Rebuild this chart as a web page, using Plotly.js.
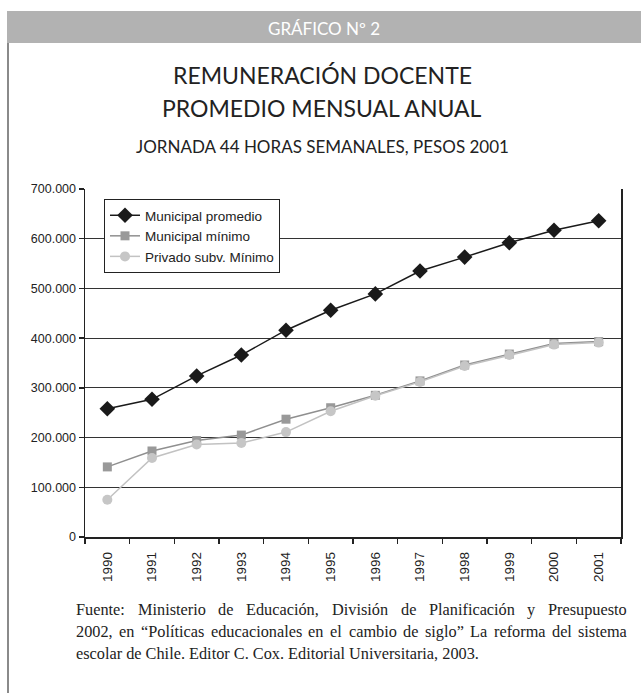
<!DOCTYPE html>
<html>
<head>
<meta charset="utf-8">
<script src="https://cdn.plot.ly/plotly-3.0.1.min.js"></script>
<style>html,body{margin:0;padding:0;background:#fff;}#chart{width:641px;height:693px;}</style>
</head>
<body>
<div id="chart"></div>
<script>
var years = ["1990","1991","1992","1993","1994","1995","1996","1997","1998","1999","2000","2001"];
var municipalPromedio = [258000, 277000, 324000, 366000, 416000, 456000, 489000, 535000, 563000, 592000, 617000, 636000];
var municipalMinimo = [141000, 173000, 194000, 205000, 237000, 260000, 285000, 314000, 346000, 368000, 389000, 393000];
var privadoMinimo = [75000, 159000, 186000, 189000, 211000, 253000, 284000, 312000, 344000, 366000, 387000, 391000];
var seriesNames = ["Municipal promedio", "Municipal mínimo", "Privado subv. Mínimo"];
var yTicks = [0, 100000, 200000, 300000, 400000, 500000, 600000, 700000];
var footLines = [
  "Fuente: Ministerio de Educación, División de Planificación y Presupuesto",
  "2002, en “Políticas educacionales en el cambio de siglo” La reforma del sistema",
  "escolar de Chile. Editor C. Cox. Editorial Universitaria, 2003."
];

var W = 641, H = 693;
var L = 85, R = 621, T = 189, B = 537;
function px(x){ return (x - L) / (R - L); }
function py(y){ return (B - y) / (B - T); }

var sansFamily = "Liberation Sans Narrow, Arial Narrow, Liberation Sans, Arial, sans-serif";
var axisFont = {family: sansFamily, size: 12.5, color: "#222"};
var titleFont = "Lato, Open Sans, Noto Sans, sans-serif";
var serifFamily = "Liberation Serif";
var serifSize = 16.3;

var traces = [
  {x: years, y: municipalPromedio, name: seriesNames[0], type: "scatter", mode: "lines+markers",
   line: {color: "#1a1a1a", width: 1.5}, marker: {symbol: "diamond", size: 12, color: "#1a1a1a"}},
  {x: years, y: municipalMinimo, name: seriesNames[1], type: "scatter", mode: "lines+markers",
   line: {color: "#8f8f8f", width: 1.5}, marker: {symbol: "square", size: 9, color: "#999999"}},
  {x: years, y: privadoMinimo, name: seriesNames[2], type: "scatter", mode: "lines+markers",
   line: {color: "#c2c2c2", width: 1.5}, marker: {symbol: "circle", size: 10, color: "#c6c6c6"}}
];

var annotations = [
  {text: "GRÁFICO Nº 2", x: px(324), y: py(28), xref: "paper", yref: "paper", showarrow: false,
   xanchor: "center", yanchor: "middle", font: {family: titleFont, size: 17, color: "#ffffff"}},
  {text: "REMUNERACIÓN DOCENTE", x: px(322), y: py(75), xref: "paper", yref: "paper", showarrow: false,
   xanchor: "center", yanchor: "middle", font: {family: titleFont, size: 23, color: "#222"}},
  {text: "PROMEDIO MENSUAL ANUAL", x: px(322), y: py(108), xref: "paper", yref: "paper", showarrow: false,
   xanchor: "center", yanchor: "middle", font: {family: titleFont, size: 23, color: "#222"}},
  {text: "JORNADA 44 HORAS SEMANALES, PESOS 2001", x: px(322), y: py(146), xref: "paper", yref: "paper", showarrow: false,
   xanchor: "center", yanchor: "middle", font: {family: titleFont, size: 17, color: "#222"}}
];

// footnote: justified lines (word placement measured with canvas)
var ctx = document.createElement("canvas").getContext("2d");
ctx.font = serifSize + "px '" + serifFamily + "'";
var footLeft = 75, footRight = 626, footTop = 609, footStep = 22;
for (var i = 0; i < footLines.length; i++) {
  var yy = py(footTop + i * footStep);
  var serifFont = {family: serifFamily + ", serif", size: serifSize, color: "#222"};
  if (i < footLines.length - 1) {
    var words = footLines[i].split(" ");
    var widths = words.map(function(w){ return ctx.measureText(w).width; });
    var sum = widths.reduce(function(a, b){ return a + b; }, 0);
    var gap = (footRight - footLeft - sum) / (words.length - 1);
    var xpos = footLeft;
    for (var k = 0; k < words.length; k++) {
      annotations.push({text: words[k], x: px(xpos), y: yy, xref: "paper", yref: "paper", showarrow: false,
        xanchor: "left", yanchor: "middle", borderpad: 0, font: serifFont});
      xpos += widths[k] + gap;
    }
  } else {
    annotations.push({text: footLines[i], x: px(footLeft), y: yy, xref: "paper", yref: "paper", showarrow: false,
      xanchor: "left", yanchor: "middle", borderpad: 0, font: serifFont});
  }
}

var layout = {
  width: W, height: H,
  margin: {l: L, r: W - R, t: T, b: H - B, pad: 0},
  paper_bgcolor: "#ffffff", plot_bgcolor: "#ffffff",
  showlegend: true,
  separators: ",.",
  legend: {x: px(104), y: py(199), xanchor: "left", yanchor: "top", bgcolor: "#ffffff",
    bordercolor: "#222", borderwidth: 1, font: {family: sansFamily, size: 13.5, color: "#222"},
    tracegroupgap: 0, itemwidth: 30},
  xaxis: {type: "category", range: [-0.5, 11.5], tickson: "boundaries", ticks: "outside", ticklen: 5,
    tickcolor: "#222", tickwidth: 1.5, showline: true, linecolor: "#222", linewidth: 1.5,
    showgrid: false, tickangle: -90, tickfont: {family: sansFamily, size: 13.5, color: "#222"},
    ticklabelstandoff: 8, zeroline: false, fixedrange: true},
  yaxis: {range: [0, 700000], tickvals: yTicks, tickformat: ",", ticks: "outside", ticklen: 5,
    tickcolor: "#222", tickwidth: 1.5, showline: true, linecolor: "#222", linewidth: 1.5, mirror: true,
    showgrid: true, gridcolor: "#333", gridwidth: 1, zeroline: false, tickfont: axisFont, fixedrange: true},
  shapes: [
    {type: "rect", xref: "paper", yref: "paper", x0: px(7), x1: px(641), y0: py(43), y1: py(11),
     fillcolor: "#b2b2b2", line: {width: 0}, layer: "below"},
    {type: "line", xref: "paper", yref: "paper", x0: px(8), x1: px(8), y0: py(43), y1: py(693),
     line: {color: "#8a8a8a", width: 2}}
  ],
  annotations: annotations
};

Plotly.newPlot("chart", traces, layout, {displayModeBar: false, staticPlot: true});
</script>
</body>
</html>
